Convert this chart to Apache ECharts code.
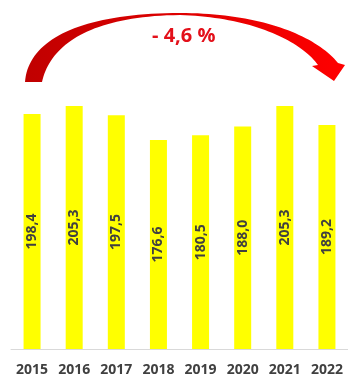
<!DOCTYPE html>
<html><head><meta charset="utf-8">
<script src="https://cdn.jsdelivr.net/npm/echarts@6/dist/echarts.min.js"></script>
<style>html,body{margin:0;padding:0;background:#fff}#c{width:348px;height:380px}</style>
</head><body><div id="c"></div>
<script>
const years = ['2015','2016','2017','2018','2019','2020','2021','2022'];
const values = [198.4, 205.3, 197.5, 176.6, 180.5, 188.0, 205.3, 189.2];
const changeText = '- 4,6 %';

// arrow outline (decoration): cubic segments sampled into a polygon
function cubic(p0, p1, p2, p3, n) {
  const out = [];
  for (let i = 0; i <= n; i++) {
    const t = i / n, u = 1 - t;
    out.push([
      u*u*u*p0[0] + 3*u*u*t*p1[0] + 3*u*t*t*p2[0] + t*t*t*p3[0],
      u*u*u*p0[1] + 3*u*u*t*p1[1] + 3*u*t*t*p2[1] + t*t*t*p3[1]
    ]);
  }
  return out;
}
const arrowPts = [].concat(
  cubic([25,82],[28,40],[80,13],[180,13],40),
  cubic([180,13],[260,13],[315,35],[338,63],40),
  [[345,65],[334,81],[312,66]],
  cubic([318,65],[300,40],[250,17],[180,15],40),
  cubic([180,15],[90,16],[50,45],[42,82],40)
);

const chart = echarts.init(document.getElementById('c'));
chart.setOption({
  animation: false,
  grid: { left: 11, top: 53, width: 340, height: 296 },
  xAxis: {
    type: 'category', data: years,
    axisLine: { lineStyle: { color: '#d9d9d9', width: 1 } },
    axisTick: { show: false },
    axisLabel: { color: '#404040', fontFamily: 'Open Sans', fontWeight: 'bold', fontSize: 14, margin: 14 }
  },
  yAxis: { type: 'value', min: 0, max: 250, show: false, splitLine: { show: false } },
  series: [{
    type: 'bar', data: values, barWidth: 17,
    itemStyle: { color: '#ffff00' },
    label: {
      show: true, position: 'inside', rotate: 90,
      formatter: p => p.value.toFixed(1).replace('.', ','),
      color: '#404040', fontFamily: 'Open Sans', fontWeight: 'bold', fontSize: 14
    }
  }],
  graphic: [
    {
      type: 'polygon',
      shape: { points: arrowPts },
      style: {
        fill: { type: 'linear', x: 0, y: 0, x2: 1, y2: 0, colorStops: [
          { offset: 0, color: '#c00000' }, { offset: 1, color: '#ff0000' }
        ] }
      }
    },
    {
      type: 'text', left: 152, top: 26,
      style: { text: changeText, fill: '#e3101a', font: 'bold 20px "Open Sans"' }
    }
  ]
});
</script></body></html>
